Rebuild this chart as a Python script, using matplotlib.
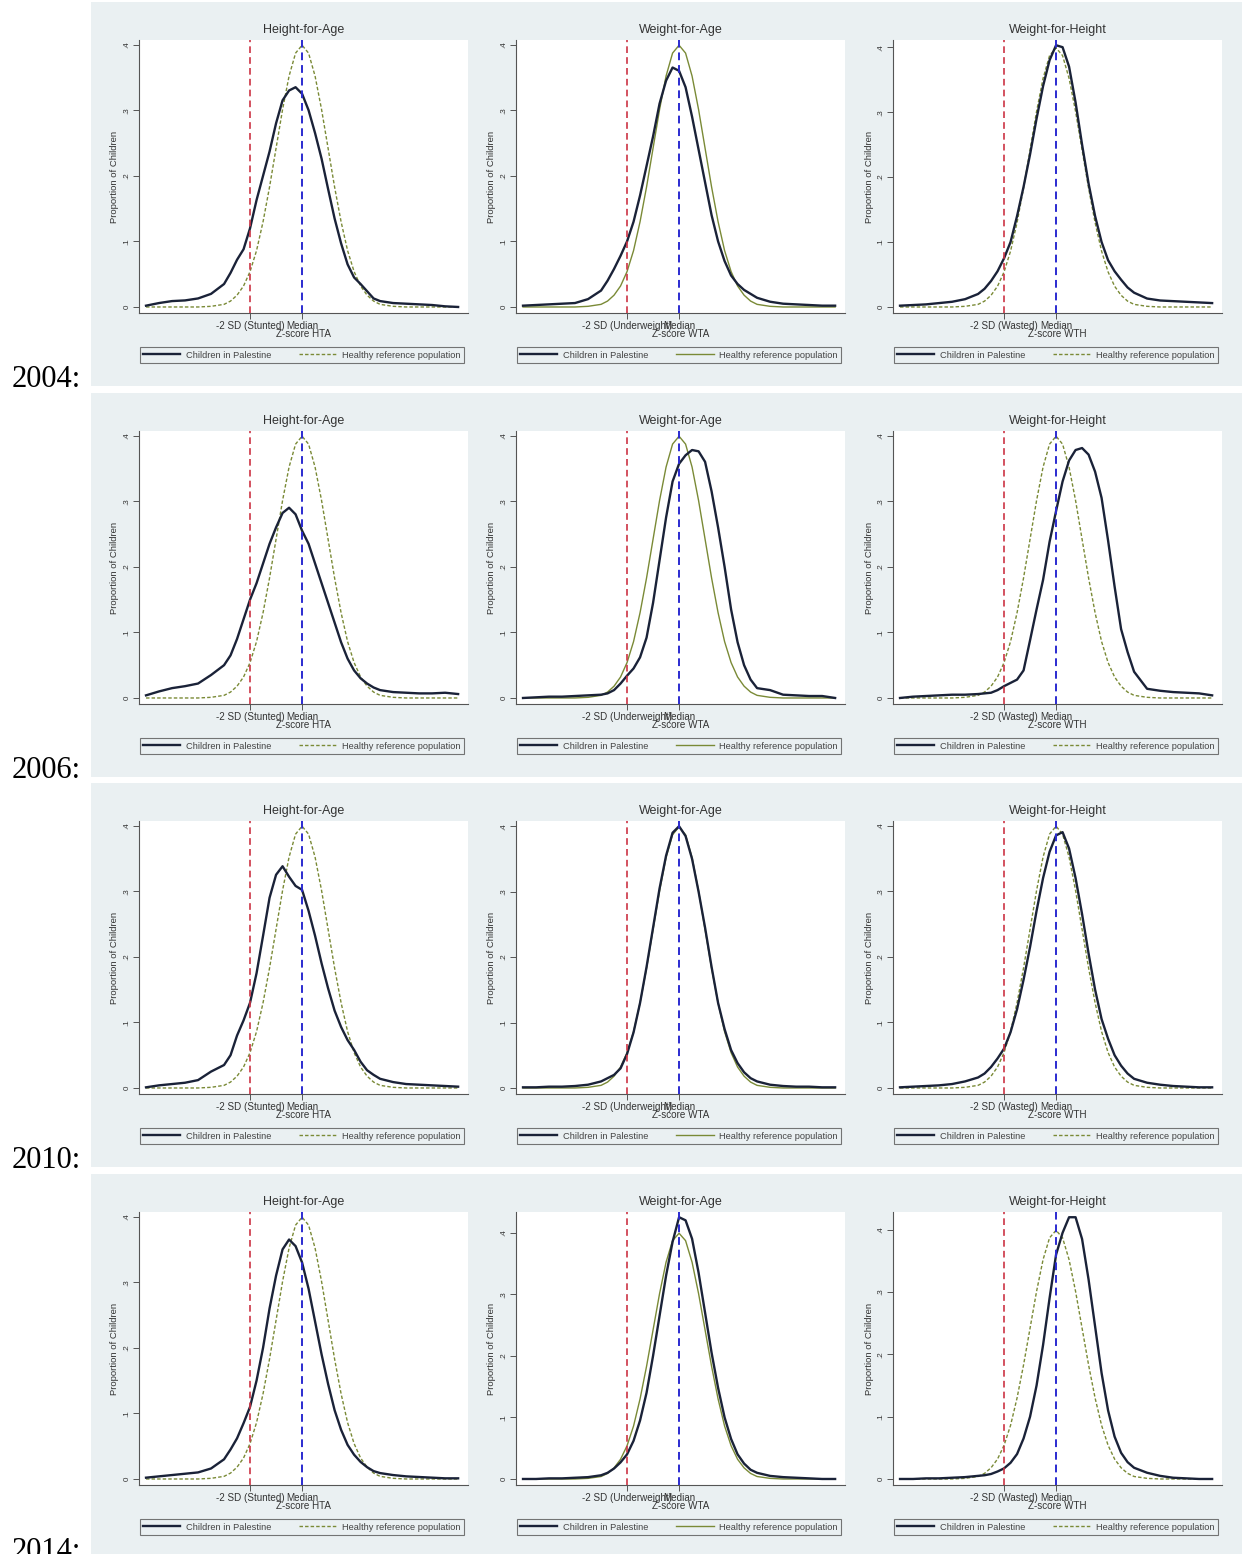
import matplotlib
matplotlib.use("Agg")
import matplotlib.pyplot as plt
from matplotlib.patches import Rectangle
import numpy as np

# ---------------- data ----------------
years = ["2004", "2006", "2010", "2014"]
indicators = ["Height-for-Age", "Weight-for-Age", "Weight-for-Height"]
sd_labels = ["-2 SD (Stunted)", "-2 SD (Underweight)", "-2 SD (Wasted)"]
xtitles = ["Z-score HTA", "Z-score WTA", "Z-score WTH"]
legend_labels = ["Children in Palestine", "Healthy reference population"]
ytick_vals = [0, 0.1, 0.2, 0.3, 0.4]
ytick_labels = ["0", ".1", ".2", ".3", ".4"]

z = [-6, -5.5, -5, -4.5, -4, -3.5, -3, -2.75, -2.5, -2.25, -2, -1.75, -1.5, -1.25,
     -1, -0.75, -0.5, -0.25, 0, 0.25, 0.5, 0.75, 1, 1.25, 1.5, 1.75, 2, 2.25,
     2.5, 2.75, 3, 3.5, 4, 4.5, 5, 5.5, 6]

reference = [0.000, 0.000, 0.000, 0.000, 0.000, 0.001, 0.004, 0.009, 0.018, 0.032, 0.054,
             0.086, 0.130, 0.183, 0.242, 0.301, 0.352, 0.387, 0.399, 0.387, 0.352, 0.301,
             0.242, 0.183, 0.130, 0.086, 0.054, 0.032, 0.018, 0.009, 0.004, 0.001, 0.000,
             0.000, 0.000, 0.000, 0.000]

hta_2004 = [0.002, 0.006, 0.009, 0.010, 0.013, 0.020, 0.035, 0.052, 0.072, 0.088, 0.120,
            0.163, 0.200, 0.237, 0.280, 0.315, 0.330, 0.335, 0.325, 0.300, 0.265, 0.226,
            0.180, 0.135, 0.097, 0.065, 0.045, 0.035, 0.024, 0.013, 0.009, 0.006, 0.005,
            0.004, 0.003, 0.001, 0.000]
wta_2004 = [0.002, 0.003, 0.004, 0.005, 0.006, 0.012, 0.025, 0.040, 0.058, 0.078, 0.100,
            0.130, 0.170, 0.215, 0.260, 0.310, 0.345, 0.365, 0.360, 0.335, 0.290, 0.240,
            0.190, 0.140, 0.100, 0.070, 0.048, 0.035, 0.026, 0.020, 0.014, 0.008, 0.005,
            0.004, 0.003, 0.002, 0.002]
wth_2004 = [0.002, 0.003, 0.004, 0.006, 0.008, 0.012, 0.020, 0.028, 0.040, 0.055, 0.075,
            0.100, 0.140, 0.185, 0.235, 0.290, 0.340, 0.380, 0.403, 0.400, 0.370, 0.315,
            0.250, 0.190, 0.140, 0.100, 0.072, 0.055, 0.042, 0.030, 0.022, 0.013, 0.010,
            0.009, 0.008, 0.007, 0.006]

hta_2006 = [0.004, 0.010, 0.015, 0.018, 0.022, 0.035, 0.050, 0.065, 0.090, 0.120, 0.150,
            0.175, 0.205, 0.235, 0.260, 0.282, 0.290, 0.280, 0.255, 0.235, 0.205, 0.175,
            0.145, 0.115, 0.085, 0.060, 0.042, 0.030, 0.022, 0.016, 0.012, 0.009, 0.008,
            0.007, 0.007, 0.008, 0.006]
wta_2006 = [0.000, 0.001, 0.002, 0.002, 0.003, 0.004, 0.005, 0.007, 0.012, 0.022, 0.034,
            0.045, 0.062, 0.092, 0.145, 0.210, 0.275, 0.330, 0.357, 0.370, 0.378, 0.376,
            0.360, 0.315, 0.260, 0.200, 0.135, 0.085, 0.050, 0.028, 0.015, 0.012, 0.005,
            0.004, 0.003, 0.003, 0.000]
wth_2006 = [0.000, 0.002, 0.003, 0.004, 0.005, 0.005, 0.006, 0.007, 0.008, 0.012, 0.018,
            0.023, 0.028, 0.042, 0.088, 0.135, 0.180, 0.238, 0.285, 0.330, 0.362, 0.378,
            0.381, 0.371, 0.345, 0.305, 0.240, 0.170, 0.105, 0.070, 0.040, 0.014, 0.011,
            0.009, 0.008, 0.007, 0.004]

hta_2010 = [0.001, 0.004, 0.006, 0.008, 0.012, 0.025, 0.035, 0.050, 0.080, 0.103, 0.130,
            0.175, 0.232, 0.290, 0.325, 0.338, 0.322, 0.308, 0.302, 0.270, 0.232, 0.190,
            0.152, 0.118, 0.093, 0.073, 0.058, 0.040, 0.027, 0.020, 0.014, 0.009, 0.006,
            0.005, 0.004, 0.003, 0.002]
wta_2010 = [0.001, 0.001, 0.002, 0.002, 0.003, 0.005, 0.010, 0.015, 0.020, 0.030, 0.052,
            0.085, 0.130, 0.185, 0.245, 0.305, 0.355, 0.390, 0.400, 0.385, 0.350, 0.300,
            0.245, 0.185, 0.130, 0.090, 0.058, 0.038, 0.024, 0.015, 0.010, 0.005, 0.003,
            0.002, 0.002, 0.001, 0.001]
wth_2010 = [0.001, 0.002, 0.003, 0.004, 0.006, 0.010, 0.016, 0.022, 0.032, 0.045, 0.060,
            0.085, 0.120, 0.165, 0.215, 0.270, 0.320, 0.360, 0.385, 0.390, 0.365, 0.320,
            0.265, 0.205, 0.150, 0.105, 0.075, 0.050, 0.034, 0.022, 0.014, 0.008, 0.005,
            0.003, 0.002, 0.001, 0.001]

hta_2014 = [0.002, 0.004, 0.006, 0.008, 0.010, 0.016, 0.030, 0.045, 0.062, 0.085, 0.110,
            0.150, 0.200, 0.260, 0.310, 0.350, 0.365, 0.355, 0.330, 0.290, 0.240, 0.190,
            0.145, 0.105, 0.075, 0.052, 0.037, 0.026, 0.018, 0.012, 0.009, 0.006, 0.004,
            0.003, 0.002, 0.001, 0.001]
wta_2014 = [0.000, 0.000, 0.001, 0.001, 0.002, 0.003, 0.006, 0.010, 0.017, 0.027, 0.040,
            0.062, 0.095, 0.140, 0.200, 0.265, 0.330, 0.385, 0.425, 0.420, 0.390, 0.335,
            0.270, 0.205, 0.148, 0.100, 0.065, 0.040, 0.025, 0.015, 0.010, 0.005, 0.003,
            0.002, 0.001, 0.000, 0.000]
wth_2014 = [0.000, 0.000, 0.001, 0.001, 0.002, 0.003, 0.005, 0.006, 0.008, 0.012, 0.017,
            0.026, 0.040, 0.065, 0.100, 0.150, 0.215, 0.290, 0.360, 0.395, 0.420, 0.420,
            0.385, 0.320, 0.245, 0.170, 0.110, 0.068, 0.042, 0.027, 0.018, 0.010, 0.005,
            0.002, 0.001, 0.000, 0.000]

palestine = [[hta_2004, wta_2004, wth_2004],
             [hta_2006, wta_2006, wth_2006],
             [hta_2010, wta_2010, wth_2010],
             [hta_2014, wta_2014, wth_2014]]

# ---------------- styling / layout ----------------
W, H = 1248, 1554
fig = plt.figure(figsize=(W / 100, H / 100), dpi=100)
fig.patch.set_facecolor("white")

SANS = ["Liberation Sans", "DejaVu Sans"]
BG = "#eaf0f2"
NAVY = "#1a2238"
OLIVE = "#7a8a36"
RED = "#cc3344"
BLUE = "#2b2bd0"
AXC = "#555555"

row_off = [0, 391, 781, 1172]
col_left = [139, 516, 893]
ax_w, ax_h, ax_top = 329, 273, 40

for r in range(4):
    off = row_off[r]
    fig.add_artist(Rectangle((91 / W, 1 - (off + 386) / H), (1242 - 91) / W, 384 / H,
                             transform=fig.transFigure, facecolor=BG, edgecolor="none",
                             zorder=-5))
    fig.text(12 / W, 1 - (off + 387) / H, years[r] + ":", family=["Liberation Serif", "DejaVu Serif"],
             fontsize=22, ha="left", va="baseline", color="black")

    for c in range(3):
        left = col_left[c] / W
        bottom = 1 - (off + ax_top + ax_h) / H
        ax = fig.add_axes([left, bottom, ax_w / W, ax_h / H])
        ax.set_facecolor("white")
        pal = np.array(palestine[r][c])
        ref = np.array(reference)
        ymax = max(pal.max(), ref.max())
        ax.set_ylim(-0.023 * ymax, 1.02 * ymax)
        ax.set_xlim(-6.27, 6.38)

        ref_ls = "-" if c == 1 else (0, (2.5, 1.5))
        ax.plot(z, ref, color=OLIVE, lw=1.0, ls=ref_ls, zorder=2,
                label=legend_labels[1])
        ax.plot(z, pal, color=NAVY, lw=1.7, zorder=3, label=legend_labels[0])
        ax.axvline(-2, color=RED, lw=1.2, ls=(0, (4, 2.5)), zorder=4)
        ax.axvline(0, color=BLUE, lw=1.4, ls=(0, (4, 2.5)), zorder=4)

        for s in ["top", "right"]:
            ax.spines[s].set_visible(False)
        for s in ["left", "bottom"]:
            ax.spines[s].set_color(AXC)
            ax.spines[s].set_linewidth(0.8)

        ax.set_xticks([-2, 0])
        ax.set_xticklabels([sd_labels[c], "Median"], family=SANS, fontsize=7.1, color="#333333")
        ax.set_yticks(ytick_vals)
        ax.set_yticklabels(ytick_labels, family=SANS, fontsize=5.8, color="#333333",
                           rotation=90, va="center")
        ax.tick_params(axis="both", length=4, width=0.7, color=AXC, pad=2)
        ax.set_xlabel(xtitles[c], family=SANS, fontsize=7.1, color="#333333", labelpad=-1.5)
        ax.set_ylabel("Proportion of Children", family=SANS, fontsize=6.8, color="#333333",
                      labelpad=3)
        ax.set_title(indicators[c], family=SANS, fontsize=9, color="#333333", pad=5)

        h_, l_ = ax.get_legend_handles_labels()
        leg = ax.legend([h_[1], h_[0]], [l_[1], l_[0]], loc="lower left",
                        bbox_to_anchor=(0.003, -0.183, 0.985, 0.066), mode="expand",
                        ncol=2, frameon=True, fancybox=False, borderaxespad=0,
                        prop={"family": SANS, "size": 6.7}, handlelength=4.0,
                        handletextpad=0.6, borderpad=0.35, columnspacing=1.0)
        leg.get_frame().set_edgecolor("#555555")
        leg.get_frame().set_linewidth(0.8)
        leg.get_frame().set_facecolor(BG)
        for t in leg.get_texts():
            t.set_color("#444444")

fig.savefig("out.png", dpi=100)
